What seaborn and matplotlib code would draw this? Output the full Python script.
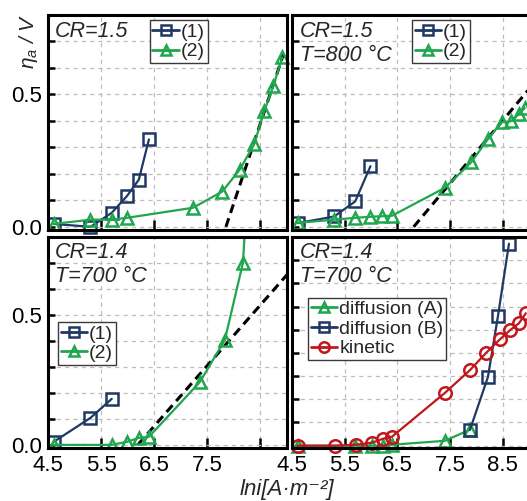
import matplotlib
matplotlib.use("Agg")
import matplotlib.pyplot as plt
import seaborn as sns
import numpy as np
from matplotlib.ticker import MultipleLocator, FixedLocator, NullFormatter, FixedFormatter
from matplotlib.lines import Line2D

# ---------------- data ----------------
# Panel (a): CR=1.5
a1_x = [4.61, 5.30, 5.70, 5.99, 6.21, 6.40]
a1_y = [0.011, 0.0, 0.053, 0.117, 0.178, 0.330]
a2_x = [4.61, 5.30, 5.70, 5.99, 7.23, 7.78, 8.11, 8.38, 8.57, 8.74, 8.91]
a2_y = [0.011, 0.027, 0.027, 0.034, 0.072, 0.133, 0.216, 0.311, 0.436, 0.530, 0.640]
a_fit_x = [7.85, 8.93]
a_fit_y = [0.0, 0.65]

# Panel (b): CR=1.5, T=800 C
b1_x = [4.61, 5.30, 5.70, 5.99]
b1_y = [0.014, 0.039, 0.096, 0.229]
b2_x = [4.61, 5.30, 5.70, 5.99, 6.21, 6.40, 7.40, 7.90, 8.22, 8.48, 8.66, 8.81, 8.92]
b2_y = [0.015, 0.027, 0.034, 0.038, 0.040, 0.042, 0.147, 0.243, 0.331, 0.395, 0.399, 0.426, 0.449]
b_fit_x = [6.81, 9.0]
b_fit_y = [0.0, 0.52]

# Panel (c): CR=1.4, T=700 C
c1_x = [4.61, 5.30, 5.70]
c1_y = [0.012, 0.104, 0.177]
c2_x = [4.61, 5.70, 5.99, 6.21, 6.40, 7.36, 7.83, 8.17, 8.41]
c2_y = [0.0, 0.0, 0.012, 0.027, 0.031, 0.242, 0.404, 0.700, 1.50]
c_fit_x = [6.19, 9.0]
c_fit_y = [0.0, 0.655]

# Panel (d): CR=1.4, T=700 C
dA_x = [4.61, 5.70, 6.02, 6.23, 6.40, 7.40, 7.88]
dA_y = [0.0, 0.0, 0.0, 0.0, 0.004, 0.021, 0.069]
dB_x = [7.88, 8.22, 8.41, 8.62]
dB_y = [0.069, 0.296, 0.558, 0.871]
k_x = [4.61, 5.32, 5.71, 6.02, 6.23, 6.40, 7.40, 7.88, 8.18, 8.45, 8.64, 8.81, 8.94]
k_y = [0.0, 0.0, 0.004, 0.013, 0.030, 0.039, 0.227, 0.326, 0.399, 0.459, 0.498, 0.528, 0.571]

x_ticks = [4.5, 5.5, 6.5, 7.5, 8.5]
left_xlabels = ["4.5", "5.5", "6.5", "7.5", ""]
right_xlabels = ["4.5", "5.5", "6.5", "7.5", "8.5"]

# ---------------- style ----------------
sns.set_theme(style="ticks")
plt.rcParams["font.family"] = ["Liberation Sans", "DejaVu Sans"]
plt.rcParams["mathtext.fontset"] = "custom"
plt.rcParams["mathtext.it"] = "Liberation Sans:italic"
plt.rcParams["mathtext.rm"] = "Liberation Sans"
plt.rcParams["lines.scale_dashes"] = False

NAVY = "#1f3864"
GREEN = "#1fa64e"
RED = "#c0171c"
MS = 9
MEW = 1.8
LW = 1.6

fig = plt.figure(figsize=(5.27, 5.01), dpi=100)
W, H = 527.0, 501.0


def add_ax(l, r, t, b):
    return fig.add_axes([l / W, 1 - b / H, (r - l) / W, (b - t) / H])


axA = add_ax(48, 287, 15, 230)
axB = add_ax(292, 529, 15, 230)
axC = add_ax(48, 287, 237, 448)
axD = add_ax(292, 529, 237, 448)


def style_ax(ax, ymax, ylow, xlabels, ylabels, show_x):
    ax.set_xlim(4.5, 9.0)
    ax.set_ylim(ylow, ymax)
    ax.xaxis.set_major_locator(FixedLocator(x_ticks))
    ax.xaxis.set_major_formatter(FixedFormatter(xlabels))
    ax.yaxis.set_major_locator(FixedLocator([0.0, 0.5]))
    ax.yaxis.set_minor_locator(MultipleLocator(0.1))
    if ylabels:
        ax.yaxis.set_major_formatter(FixedFormatter(["0.0", "0.5"]))
    else:
        ax.yaxis.set_major_formatter(NullFormatter())
    ax.yaxis.set_minor_formatter(NullFormatter())
    ax.tick_params(axis="both", which="both", direction="in", width=1.8,
                   colors="black", labelsize=16, top=False, right=False)
    ax.tick_params(axis="x", which="major", length=7, pad=5, labelbottom=show_x)
    ax.tick_params(axis="y", which="both", length=5, pad=4)
    ax.grid(True, which="major", axis="x", color="#bdbdbd", linestyle=(0, (3, 3)), linewidth=0.9)
    ax.grid(True, which="both", axis="y", color="#bdbdbd", linestyle=(0, (3, 3)), linewidth=0.9)
    for s in ax.spines.values():
        s.set_linewidth(2.2)
        s.set_color("black")
    ax.set_facecolor("white")
    ax.set_xlabel("")
    ax.set_ylabel("")


def series(ax, x, y, color, marker, clip=False):
    sns.lineplot(x=x, y=y, ax=ax, color=color, marker=marker, markersize=MS,
                 markerfacecolor="none", markeredgecolor=color, markeredgewidth=MEW,
                 linewidth=LW, sort=False, estimator=None, legend=False)
    ax.lines[-1].set_clip_on(clip)


def fit(ax, x, y):
    sns.lineplot(x=x, y=y, ax=ax, color="black", linewidth=2.2, sort=False,
                 estimator=None, legend=False)
    ax.lines[-1].set_linestyle((0, (6.5, 4.0)))


def handle(color, marker):
    return Line2D([], [], color=color, marker=marker, markersize=7.5,
                  markerfacecolor="none", markeredgecolor=color, markeredgewidth=1.8,
                  linewidth=2.0)


def leg(ax, handles, labels, loc_xy):
    lg = ax.legend(handles, labels, loc="upper left", bbox_to_anchor=loc_xy,
                   fontsize=14, frameon=True, fancybox=False, shadow=False,
                   handlelength=1.35, handletextpad=0.1, borderpad=0.15,
                   labelspacing=0.1, borderaxespad=0.0, framealpha=1.0)
    lg.get_frame().set_edgecolor("#3a3a3a")
    lg.get_frame().set_linewidth(1.0)
    lg.set_zorder(5)
    return lg


txt_kw = dict(fontsize=15.5, style="italic", va="top", ha="left", linespacing=1.15)

# Panel A
style_ax(axA, 0.8, -0.012, left_xlabels, True, False)
fit(axA, a_fit_x, a_fit_y)
series(axA, a1_x, a1_y, NAVY, "s")
series(axA, a2_x, a2_y, GREEN, "^")
leg(axA, [handle(NAVY, "s"), handle(GREEN, "^")], ["(1)", "(2)"], (0.425, 0.975))
axA.text(0.03, 0.97, "CR=1.5", transform=axA.transAxes, **txt_kw)

# Panel B
style_ax(axB, 0.8, -0.012, right_xlabels, False, False)
fit(axB, b_fit_x, b_fit_y)
series(axB, b1_x, b1_y, NAVY, "s")
series(axB, b2_x, b2_y, GREEN, "^")
leg(axB, [handle(NAVY, "s"), handle(GREEN, "^")], ["(1)", "(2)"], (0.505, 0.975))
axB.text(0.035, 0.97, "CR=1.5\nT=800 °C", transform=axB.transAxes, **txt_kw)

# Panel C
style_ax(axC, 0.8, -0.012, left_xlabels, True, True)
fit(axC, c_fit_x, c_fit_y)
series(axC, c1_x, c1_y, NAVY, "s")
series(axC, c2_x, c2_y, GREEN, "^", clip=True)
leg(axC, [handle(NAVY, "s"), handle(GREEN, "^")], ["(1)", "(2)"], (0.042, 0.597))
axC.text(0.03, 0.975, "CR=1.4\nT=700 °C", transform=axC.transAxes, **txt_kw)

# Panel D
style_ax(axD, 0.9, -0.01, right_xlabels, False, True)
series(axD, dA_x, dA_y, GREEN, "^")
series(axD, dB_x, dB_y, NAVY, "s")
series(axD, k_x, k_y, RED, "o")
leg(axD, [handle(GREEN, "^"), handle(NAVY, "s"), handle(RED, "o")],
    ["diffusion (A)", "diffusion (B)", "kinetic"], (0.068, 0.712))
axD.text(0.035, 0.975, "CR=1.4\nT=700 °C", transform=axD.transAxes, **txt_kw)

# axis labels
fig.text(29 / W, 1 - 41 / H, r"$\eta_a$ / V", rotation=90, ha="center", va="center",
         fontsize=15, style="italic")
fig.text(287 / W, 1 - 489 / H, "lni[A·m⁻²]", ha="center", va="center",
         fontsize=16, style="italic", family=["Liberation Sans", "DejaVu Sans"])

fig.savefig("out.png", dpi=100, facecolor="white")
